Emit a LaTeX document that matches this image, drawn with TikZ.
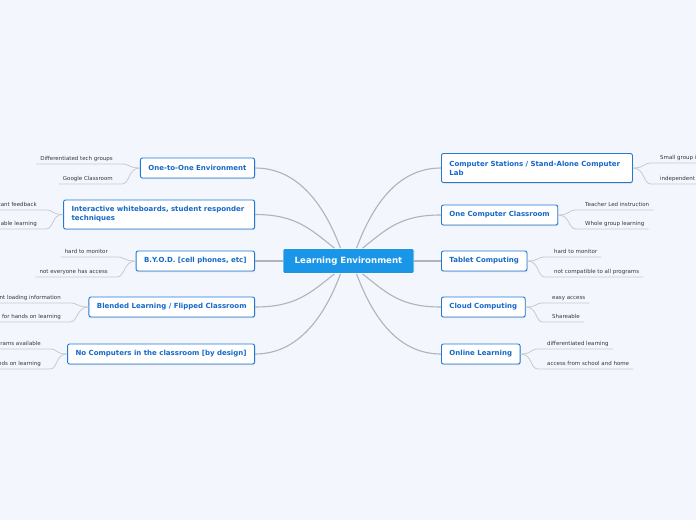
\documentclass[tikz,border=0pt]{standalone}
\usepackage{fontspec}
\setmainfont{DejaVu Sans}
\usetikzlibrary{shadows}

\definecolor{bgcol}{RGB}{243,246,253}
\definecolor{rootcol}{RGB}{26,150,232}
\definecolor{topiccol}{RGB}{31,122,214}
\definecolor{topictext}{RGB}{22,104,200}
\definecolor{branchcol}{RGB}{176,178,188}
\definecolor{twigcol}{RGB}{200,202,210}
\definecolor{leafcol}{RGB}{55,55,60}

\tikzset{
  rootbox/.style={rectangle, rounded corners=1.5pt, fill=rootcol, draw=white, line width=0.6pt,
    text=white, font=\fontsize{8.6}{10}\selectfont\bfseries,
    minimum width=131pt, minimum height=25pt, inner sep=0pt},
  topic/.style={rectangle, rounded corners=2pt, fill=white, draw=topiccol, line width=0.9pt,
    text=topictext, font=\fontsize{7}{9}\selectfont\bfseries,
    minimum height=20pt, inner xsep=8pt, inner ysep=0pt,
    drop shadow={shadow xshift=0.6pt, shadow yshift=-1pt, opacity=0.25}},
  topic2/.style={topic, text width=175pt, align=left, minimum height=29pt},
  leaf/.style={font=\fontsize{5.5}{6}\selectfont, text=leafcol, inner xsep=0pt, inner ysep=3.5pt,
    text height=4pt, text depth=0pt},
  branch/.style={draw=branchcol, line width=1.1pt},
  twig/.style={draw=twigcol, line width=0.8pt}
}

\begin{document}
\begin{tikzpicture}[x=1pt, y=-1pt]

    \useasboundingbox[fill=bgcol] (0,0) rectangle (696,520);

    % Nodo central
    \node[rootbox] (root) at (348.5, 261) {Learning Environment};

    % Temas de la izquierda
    \node[topic, anchor=east] (oto) at (255, 168) {One-to-One Environment};
    \node[topic2, anchor=east] (iwb) at (255, 214.5) {Interactive whiteboards, student responder\\techniques};
    \node[topic, anchor=east] (byod) at (255, 261) {B.Y.O.D. [cell phones, etc]};
    \node[topic, anchor=east] (blend) at (255, 307) {Blended Learning / Flipped Classroom};
    \node[topic, anchor=east] (nocomp) at (255, 354) {No Computers in the classroom [by design]};

    % Temas de la derecha
    \node[topic2, anchor=west] (stat) at (441, 168) {Computer Stations / Stand-Alone Computer\\Lab};
    \node[topic, anchor=west] (occ) at (441, 215) {One Computer Classroom};
    \node[topic, anchor=west] (tab) at (441, 261) {Tablet Computing};
    \node[topic, anchor=west] (cloud) at (441, 307) {Cloud Computing};
    \node[topic, anchor=west] (online) at (441, 354) {Online Learning};

    % Hojas de la izquierda
    \node[leaf, anchor=south east] (oto1) at (113, 164) {Differentiated tech groups};
    \node[leaf, anchor=south east] (oto2) at (113, 184) {Google Classroom};
    \node[leaf, anchor=south east] (iwb1) at (37, 210) {tant feedback};
    \node[leaf, anchor=south east] (iwb2) at (37, 229) {able learning};
    \node[leaf, anchor=south east] (byod1) at (108, 257) {hard to monitor};
    \node[leaf, anchor=south east] (byod2) at (108, 277) {not everyone has access};
    \node[leaf, anchor=south east] (blend1) at (61, 303) {nt loading information};
    \node[leaf, anchor=south east] (blend2) at (61, 322) {for hands on learning};
    \node[leaf, anchor=south east] (nocomp1) at (41, 349) {rams available};
    \node[leaf, anchor=south east] (nocomp2) at (41, 369) {nds on learning};

    % Hojas de la derecha
    \node[leaf, anchor=south west] (stat1) at (660, 163) {Small group i};
    \node[leaf, anchor=south west] (stat2) at (660, 184) {independent};
    \node[leaf, anchor=south west] (occ1) at (585, 210) {Teacher Led instruction};
    \node[leaf, anchor=south west] (occ2) at (585, 229) {Whole group learning};
    \node[leaf, anchor=south west] (tab1) at (554, 257) {hard to monitor};
    \node[leaf, anchor=south west] (tab2) at (554, 277) {not compatible to all programs};
    \node[leaf, anchor=south west] (cloud1) at (552, 303) {easy access};
    \node[leaf, anchor=south west] (cloud2) at (552, 322) {Shareable};
    \node[leaf, anchor=south west] (online1) at (547, 349) {differentiated learning};
    \node[leaf, anchor=south west] (online2) at (547, 369) {access from school and home};

    % Ramas principales
    \draw[branch] (oto.east) .. controls +(45,0) and +(-15,-40) .. ([xshift=-8pt]root.north);
    \draw[branch] (iwb.east) .. controls +(40,0) and +(-25,-20) .. ([xshift=-14pt]root.north);
    \draw[branch] (byod.east) -- (root.west);
    \draw[branch] (blend.east) .. controls +(40,0) and +(-25,20) .. ([xshift=-14pt]root.south);
    \draw[branch] (nocomp.east) .. controls +(45,0) and +(-15,40) .. ([xshift=-8pt]root.south);
    \draw[branch] (stat.west) .. controls +(-45,0) and +(15,-40) .. ([xshift=8pt]root.north);
    \draw[branch] (occ.west) .. controls +(-40,0) and +(25,-20) .. ([xshift=14pt]root.north);
    \draw[branch] (tab.west) -- (root.east);
    \draw[branch] (cloud.west) .. controls +(-40,0) and +(25,20) .. ([xshift=14pt]root.south);
    \draw[branch] (online.west) .. controls +(-45,0) and +(15,40) .. ([xshift=8pt]root.south);

    % Ramitas de la izquierda
    \foreach \t in {oto, iwb, byod, blend, nocomp} {
      \foreach \k in {1, 2} {
        \draw[twig] (\t.west) .. controls +(-12,0) and +(8,0) .. ([xshift=9pt]\t\k.south east)
          -- ([xshift=-4pt]\t\k.south west);
      }
    }

    % Ramitas de la derecha
    \foreach \t in {stat, occ, tab, cloud, online} {
      \foreach \k in {1, 2} {
        \draw[twig] (\t.east) .. controls +(12,0) and +(-8,0) .. ([xshift=-9pt]\t\k.south west)
          -- ([xshift=4pt]\t\k.south east);
      }
    }

\end{tikzpicture}
\end{document}
